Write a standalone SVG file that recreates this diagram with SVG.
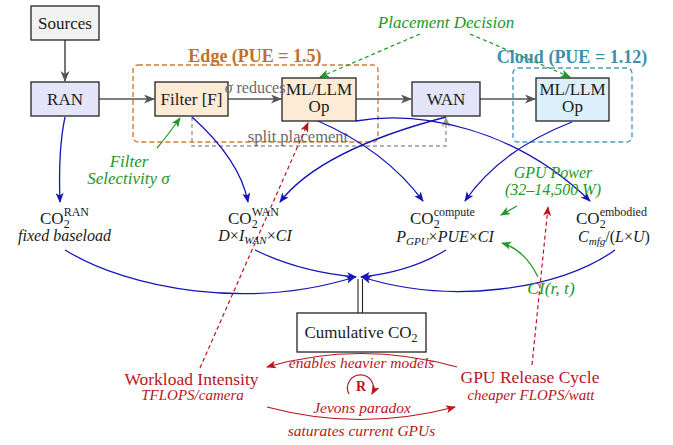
<svg xmlns="http://www.w3.org/2000/svg" width="673" height="445" viewBox="0 0 673 445" font-family="Liberation Serif, DejaVu Serif, serif">
<style>
text{fill:#1a1a1a}
.box{stroke:#222;stroke-width:1.3}
.lbl{font-size:17px;text-anchor:middle}
.it{font-style:italic}
.sup{font-size:12px}
.g{fill:#229926}
.r{fill:#b8161c}
.gray{fill:#6a6a6a}
.ga{fill:none;stroke:#555;stroke-width:1.6}
.bl{fill:none;stroke:#1515b8;stroke-width:1.3}
.gr{fill:none;stroke:#229926;stroke-width:1.2}
.rd{fill:none;stroke:#b8161c;stroke-width:1.2}
</style>
<defs>
<marker id="ahGray" markerUnits="userSpaceOnUse" markerWidth="12" markerHeight="10" refX="10" refY="4.5" orient="auto"><path d="M0,0 L11,4.5 L0,9 L3,4.5 Z" fill="#555"/></marker>
<marker id="ahGrayL" markerUnits="userSpaceOnUse" markerWidth="12" markerHeight="10" refX="9" refY="4.5" orient="auto"><path d="M0,0 L10,4.5 L0,9 L3,4.5 Z" fill="#999"/></marker>
<marker id="ahBlue" markerUnits="userSpaceOnUse" markerWidth="11" markerHeight="9" refX="9" refY="4" orient="auto"><path d="M0,0 L10,4 L0,8 L2.5,4 Z" fill="#1515b8"/></marker>
<marker id="ahGreen" markerUnits="userSpaceOnUse" markerWidth="11" markerHeight="9" refX="9" refY="4" orient="auto"><path d="M0,0 L10,4 L0,8 L2.5,4 Z" fill="#229926"/></marker>
<marker id="ahRed" markerUnits="userSpaceOnUse" markerWidth="11" markerHeight="9" refX="9" refY="4" orient="auto"><path d="M0,0 L10,4 L0,8 L2.5,4 Z" fill="#b8161c"/></marker>
</defs>

<g id="edge-region">
<rect x="133" y="65" width="245" height="77" rx="5" fill="none" stroke="#cc7f35" stroke-width="1.4" stroke-dasharray="5,3"/>
<text x="255" y="62" text-anchor="middle" font-size="18" font-weight="bold" style="fill:#c0702a">Edge (PUE = 1.5)</text>
</g>
<g id="cloud-region">
<rect x="513" y="68" width="119" height="74" rx="5" fill="none" stroke="#4b9bb8" stroke-width="1.4" stroke-dasharray="5,3"/>
<text x="572" y="63" text-anchor="middle" font-size="18" font-weight="bold" style="fill:#3d8fad">Cloud (PUE = 1.12)</text>
</g>

<g id="connectors">
<line class="ga" x1="65" y1="40" x2="65" y2="81" marker-end="url(#ahGray)"/>
<line class="ga" x1="99" y1="99" x2="154" y2="99" marker-end="url(#ahGray)"/>
<line class="ga" x1="228" y1="99" x2="281" y2="99" marker-end="url(#ahGray)"/>
<line class="ga" x1="356" y1="99" x2="411" y2="99" marker-end="url(#ahGray)"/>
<line class="ga" x1="480" y1="99" x2="535" y2="99" marker-end="url(#ahGray)"/>
<path d="M192,117 L192,146 L446,146 L446,118" fill="none" stroke="#999" stroke-width="1.4" stroke-dasharray="4,3" marker-end="url(#ahGrayL)"/>
<text x="298" y="142" text-anchor="middle" font-size="16.5" class="gray">split placement</text>

<path class="gr" d="M420,34 L320,77" stroke-dasharray="4,3" marker-end="url(#ahGreen)"/>
<path class="gr" d="M470,34 L570,77" stroke-dasharray="4,3" marker-end="url(#ahGreen)"/>
<path class="gr" d="M157,148 Q168,135 180,118" marker-end="url(#ahGreen)"/>
<path class="gr" d="M517,206 L501,215" marker-end="url(#ahGreen)"/>
<path class="gr" d="M538,277 Q525,250 502,243" marker-end="url(#ahGreen)"/>

<path class="bl" d="M65,117 Q58,150 60,202" marker-end="url(#ahBlue)"/>
<path class="bl" d="M192,117 Q240,160 248,202" marker-end="url(#ahBlue)"/>
<path class="bl" d="M318,121 Q385,150 423,201" marker-end="url(#ahBlue)"/>
<path class="bl" d="M446,117 Q320,150 280,202" marker-end="url(#ahBlue)"/>
<path class="bl" d="M572,122 Q500,150 465,201" marker-end="url(#ahBlue)"/>
<path class="bl" d="M356,121 C420,110 515,128 590,201" marker-end="url(#ahBlue)"/>
<path class="bl" d="M65,250 C130,290 250,310 355,277" marker-end="url(#ahBlue)"/>
<path class="bl" d="M255,250 Q300,272 356,277" marker-end="url(#ahBlue)"/>
<path class="bl" d="M446,250 Q410,272 361,277" marker-end="url(#ahBlue)"/>
<path class="bl" d="M615,250 C560,290 450,305 362,277" marker-end="url(#ahBlue)"/>
<line x1="358" y1="279" x2="358" y2="313" stroke="#222" stroke-width="1.1"/>
<line x1="362.5" y1="279" x2="362.5" y2="313" stroke="#222" stroke-width="1.1"/>

<path class="rd" d="M200,368 L308,123" stroke-dasharray="4,3" marker-end="url(#ahRed)"/>
<path class="rd" d="M532,365 L548,207" stroke-dasharray="4,3" marker-end="url(#ahRed)"/>
<path class="rd" d="M457,367 Q360,340 267,367" marker-end="url(#ahRed)"/>
<path class="rd" d="M267,407 Q360,432 455,407" marker-end="url(#ahRed)"/>
<path class="rd" d="M349,394 A13,13 0 1,1 372,394" marker-end="url(#ahRed)"/>
</g>

<g id="sources"><rect class="box" x="31" y="6" width="68" height="34" fill="#f2f2f2"/><text class="lbl" x="65" y="29">Sources</text></g>
<g id="ran"><rect class="box" x="31" y="82" width="68" height="34" fill="#e4e4fb"/><text class="lbl" x="65" y="105">RAN</text></g>
<g id="filter"><rect class="box" x="155" y="82" width="73" height="34" fill="#fdebd6"/><text class="lbl" x="191.5" y="105">Filter [F]</text></g>
<g id="ml-edge"><rect class="box" x="282" y="78" width="74" height="43" fill="#fdebd6"/><text class="lbl" x="319" y="95">ML/LLM</text><text class="lbl" x="319" y="112">Op</text></g>
<g id="wan"><rect class="box" x="412" y="82" width="68" height="34" fill="#e4e4fb"/><text class="lbl" x="446" y="105">WAN</text></g>
<g id="ml-cloud"><rect class="box" x="536" y="78" width="73" height="43" fill="#dcf0fb"/><text class="lbl" x="572.5" y="95">ML/LLM</text><text class="lbl" x="572.5" y="112">Op</text></g>

<g id="sigma-reduces"><text x="255" y="93" text-anchor="middle" font-size="16" class="gray"><tspan font-style="italic">σ</tspan> reduces</text></g>

<g id="placement-decision"><text x="446" y="28" text-anchor="middle" font-size="17" class="it g">Placement Decision</text></g>
<g id="filter-selectivity"><text x="129" y="167" text-anchor="middle" font-size="17" class="it g">Filter</text><text x="128.5" y="184" text-anchor="middle" font-size="17" class="it g">Selectivity σ</text></g>
<g id="gpu-power"><text x="553" y="178" text-anchor="middle" font-size="16" class="it g">GPU Power</text><text x="553" y="195" text-anchor="middle" font-size="16" class="it g">(32–14,500 W)</text></g>
<g id="ci"><text x="551" y="294" text-anchor="middle" font-size="17.5" class="it g">CI(r, t)</text></g>

<g id="co2-ran"><text x="40" y="224" font-size="17">CO<tspan class="sup" dy="4">2</tspan><tspan class="sup" dx="-6" dy="-12">RAN</tspan></text>
<text x="64.5" y="241" text-anchor="middle" font-size="16" class="it">fixed baseload</text></g>
<g id="co2-wan"><text x="228" y="224" font-size="17">CO<tspan class="sup" dy="4">2</tspan><tspan class="sup" dx="-6" dy="-12">WAN</tspan></text>
<text x="255" y="241" text-anchor="middle" font-size="16"><tspan class="it">D</tspan>×<tspan class="it">I</tspan><tspan class="it" font-size="11" dy="3">WAN</tspan><tspan dy="-3">×</tspan><tspan class="it">CI</tspan></text></g>
<g id="co2-compute"><text x="410" y="224" font-size="17">CO<tspan class="sup" dy="4">2</tspan><tspan class="sup" dx="-6" dy="-12">compute</tspan></text>
<text x="445" y="242" text-anchor="middle" font-size="16"><tspan class="it">P</tspan><tspan class="it" font-size="11" dy="3">GPU</tspan><tspan dy="-3">×</tspan><tspan class="it">PUE</tspan>×<tspan class="it">CI</tspan></text></g>
<g id="co2-embodied"><text x="576" y="224" font-size="17">CO<tspan class="sup" dy="4">2</tspan><tspan class="sup" dx="-6" dy="-12">embodied</tspan></text>
<text x="614" y="242" text-anchor="middle" font-size="16"><tspan class="it">C</tspan><tspan class="it" font-size="11" dy="3">mfg</tspan><tspan dy="-3">/(</tspan><tspan class="it">L</tspan>×<tspan class="it">U</tspan>)</text></g>

<g id="cumulative"><rect class="box" x="297" y="313" width="129" height="39" fill="#ffffff"/><text x="361" y="338" text-anchor="middle" font-size="17">Cumulative CO<tspan font-size="12" dy="4">2</tspan></text></g>

<g id="workload"><text x="191.5" y="385" text-anchor="middle" font-size="17.5" class="r">Workload Intensity</text><text x="192.5" y="400" text-anchor="middle" font-size="15" class="it r">TFLOPS/camera</text></g>
<g id="gpu-release"><text x="530" y="383" text-anchor="middle" font-size="17.5" class="r">GPU Release Cycle</text><text x="531" y="400" text-anchor="middle" font-size="15" class="it r">cheaper FLOPS/watt</text></g>

<g id="loop-labels">
<text x="361.5" y="368" text-anchor="middle" font-size="15.5" class="it r">enables heavier models</text>
<text x="361" y="391" text-anchor="middle" font-size="14" font-weight="bold" class="r">R</text>
<text x="362" y="413" text-anchor="middle" font-size="15.5" class="it r">Jevons paradox</text>
<text x="361.5" y="436" text-anchor="middle" font-size="15.5" class="it r">saturates current GPUs</text>
</g>
</svg>
